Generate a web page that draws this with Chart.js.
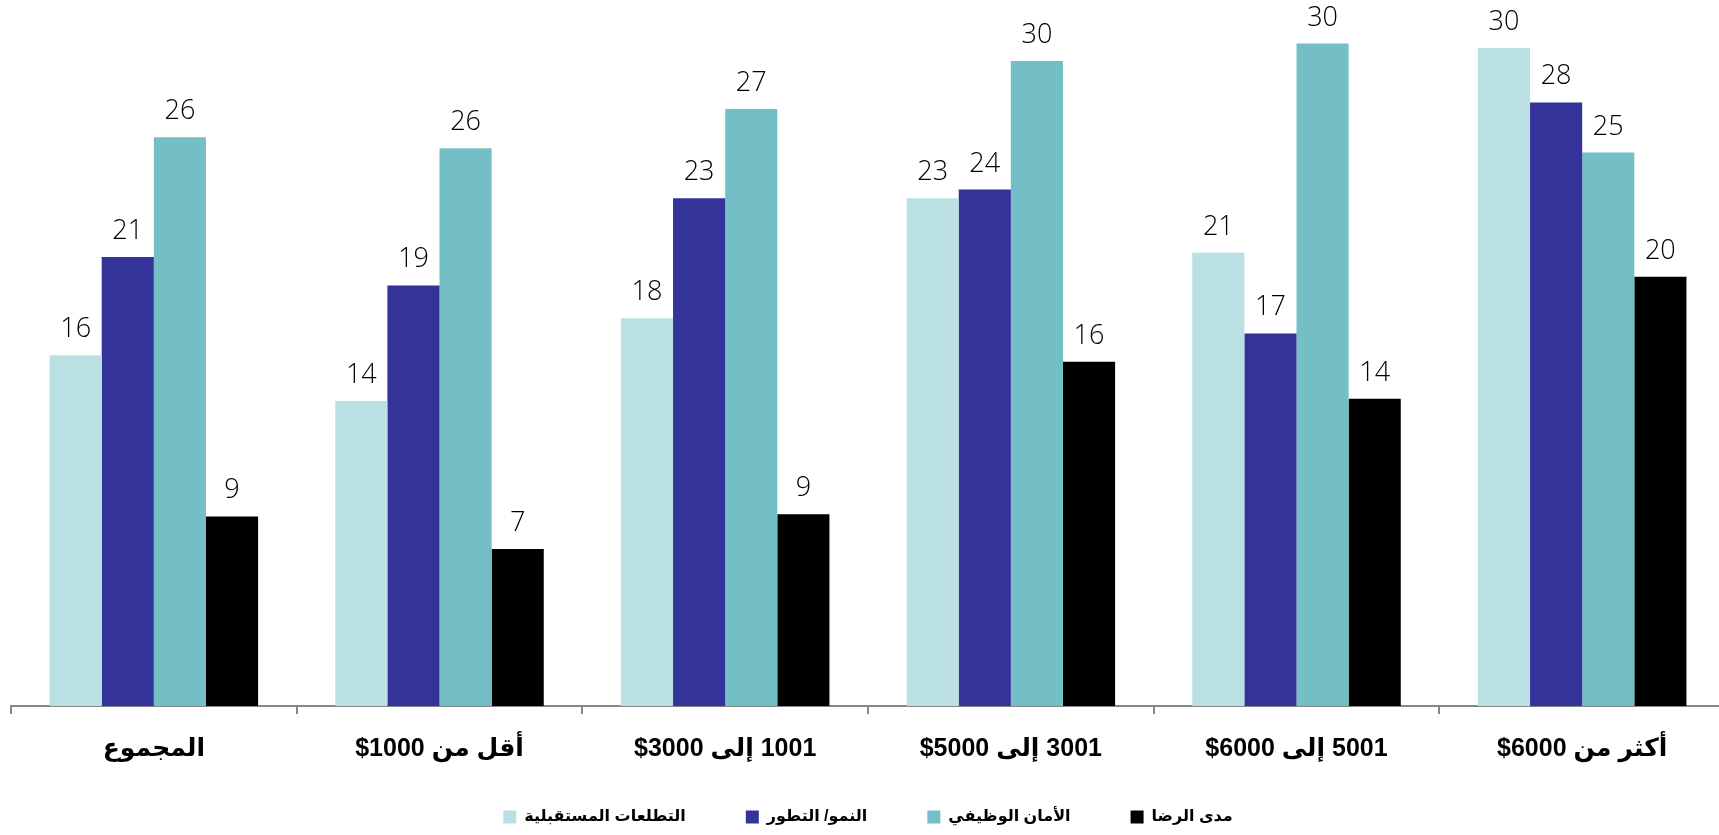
<!DOCTYPE html>
<html lang="ar">
<head>
<meta charset="utf-8">
<title>chart</title>
<script src="https://cdn.jsdelivr.net/npm/chart.js@4"></script>
<style>
  html, body { margin: 0; padding: 0; background: #fff; overflow: hidden; }
  #wrap { width: 1730px; height: 835px; }
  #incomeChart { direction: rtl; }
</style>
</head>
<body>
<div id="wrap"><canvas id="incomeChart" width="1730" height="835"></canvas></div>
<script>
// categories (income brackets), LRM keeps "$" in front of the amount
const categories = ['المجموع', 'أقل من \u200E$1000', '1001 إلى \u200E$3000', '3001 إلى \u200E$5000', '5001 إلى \u200E$6000', 'أكثر من \u200E$6000'];

// series names
const seriesNames = ['التطلعات المستقبلية', 'النمو/ التطور', 'الأمان الوظيفي', 'مدى الرضا'];

// series values
const aspirations = [16.1, 14.0, 17.8, 23.3, 20.8, 30.2];
const growth = [20.6, 19.3, 23.3, 23.7, 17.1, 27.7];
const jobSecurity = [26.1, 25.6, 27.4, 29.6, 30.4, 25.4];
const satisfaction = [8.7, 7.2, 8.8, 15.8, 14.1, 19.7];

const colors = ['#BAE0E3', '#343399', '#73BFC5', '#000000'];

// simple value labels above every bar
const barLabels = {
    id: 'barLabels',
    afterLayout: function(chart) {
        // the x axis box is kept short, let its labels draw below it
        chart.scales.x.bottom = chart.height;
    },
    afterDatasetsDraw: function(chart) {
        const ctx = chart.ctx;
        ctx.save();
        ctx.font = '300 27px "Open Sans", "DejaVu Sans", sans-serif';
        ctx.fillStyle = '#000';
        ctx.textAlign = 'center';
        ctx.textBaseline = 'alphabetic';
        chart.data.datasets.forEach(function(ds, i) {
            chart.getDatasetMeta(i).data.forEach(function(bar, j) {
                ctx.fillText(Math.round(ds.data[j]), bar.x, bar.y - 18);
            });
        });
        ctx.restore();
    }
};

const ctx = document.getElementById('incomeChart').getContext('2d');
const chart = new Chart(ctx, {
    type: 'bar',
    data: {
        labels: categories,
        datasets: [
            { label: seriesNames[0], data: aspirations, backgroundColor: colors[0] },
            { label: seriesNames[1], data: growth, backgroundColor: colors[1] },
            { label: seriesNames[2], data: jobSecurity, backgroundColor: colors[2] },
            { label: seriesNames[3], data: satisfaction, backgroundColor: colors[3] }
        ]
    },
    options: {
        responsive: false,
        animation: false,
        layout: { padding: { left: 11, right: 5, top: 0, bottom: 0 } },
        datasets: {
            bar: { barPercentage: 1, categoryPercentage: 0.73 }
        },
        scales: {
            x: {
                grid: { display: true, drawOnChartArea: false, drawTicks: true, tickLength: 8, color: '#878787', lineWidth: 2, offset: true },
                border: { display: true, color: '#878787', width: 2 },
                ticks: {
                    color: '#000',
                    padding: 20,
                    font: { family: '"Liberation Sans", "DejaVu Sans", sans-serif', size: 25, weight: 'bold' }
                },
                afterFit: function(scale) { scale.height = 43; }
            },
            y: {
                display: false,
                min: 0,
                max: 32.4
            }
        },
        plugins: {
            legend: {
                position: 'bottom',
                labels: {
                    color: '#000',
                    boxWidth: 13,
                    boxHeight: 13,
                    padding: 60,
                    font: { family: '"Liberation Sans", "DejaVu Sans", sans-serif', size: 16, weight: 'bold' }
                }
            },
            tooltip: { enabled: false }
        }
    },
    plugins: [barLabels]
});
</script>
</body>
</html>
